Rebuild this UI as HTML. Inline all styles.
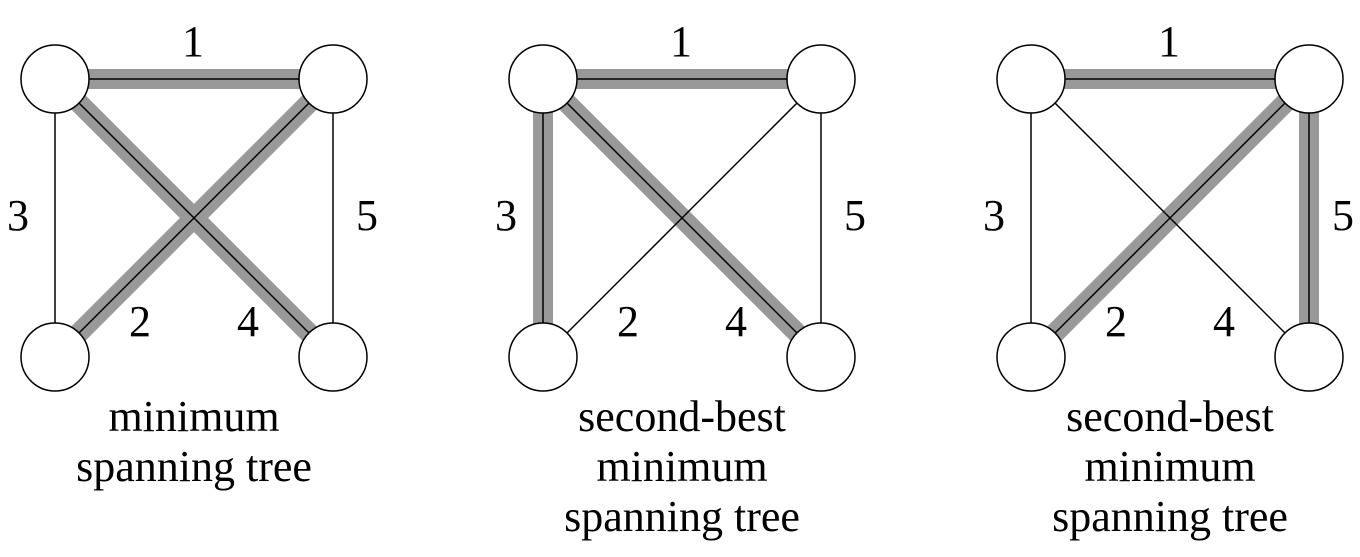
<!DOCTYPE html>
<html><head><style>body{margin:0;background:#fff}.g{stroke:#999;stroke-width:20px}.k{stroke:#000;stroke-width:1.5px}</style></head><body>
<svg width="1360" height="552" viewBox="0 0 1360 552" xmlns="http://www.w3.org/2000/svg" font-family="Liberation Serif, serif" font-size="44" text-anchor="middle">
<defs>
<g id="nodes" fill="#fff" stroke="#000" stroke-width="1.5">
<circle cx="55" cy="79" r="34"/><circle cx="333" cy="79" r="34"/>
<circle cx="55" cy="357" r="34"/><circle cx="333" cy="357" r="34"/>
</g>
<g id="labels">
<text x="193" y="56">1</text><text x="18" y="230">3</text><text x="367" y="230">5</text>
<text x="140" y="336">2</text><text x="248" y="336">4</text>
</g>
</defs>
<g>
<line class="g" x1="55" y1="79" x2="333" y2="79"/><line class="g" x1="55" y1="79" x2="333" y2="357"/><line class="g" x1="333" y1="79" x2="55" y2="357"/>
<line class="k" x1="55" y1="79" x2="333" y2="79"/><line class="k" x1="55" y1="79" x2="333" y2="357"/><line class="k" x1="333" y1="79" x2="55" y2="357"/>
<line class="k" x1="55" y1="79" x2="55" y2="357"/><line class="k" x1="333" y1="79" x2="333" y2="357"/>
<use href="#nodes"/><use href="#labels"/>
<text x="194" y="431">minimum</text><text x="194" y="481">spanning tree</text>
</g>
<g transform="translate(488,0)">
<line class="g" x1="55" y1="79" x2="333" y2="79"/><line class="g" x1="55" y1="79" x2="333" y2="357"/><line class="g" x1="55" y1="79" x2="55" y2="357"/>
<line class="k" x1="55" y1="79" x2="333" y2="79"/><line class="k" x1="55" y1="79" x2="333" y2="357"/><line class="k" x1="333" y1="79" x2="55" y2="357"/>
<line class="k" x1="55" y1="79" x2="55" y2="357"/><line class="k" x1="333" y1="79" x2="333" y2="357"/>
<use href="#nodes"/><use href="#labels"/>
<text x="194" y="431">second-best</text><text x="194" y="481">minimum</text><text x="194" y="531">spanning tree</text>
</g>
<g transform="translate(976,0)">
<line class="g" x1="55" y1="79" x2="333" y2="79"/><line class="g" x1="333" y1="79" x2="55" y2="357"/><line class="g" x1="333" y1="79" x2="333" y2="357"/>
<line class="k" x1="55" y1="79" x2="333" y2="79"/><line class="k" x1="55" y1="79" x2="333" y2="357"/><line class="k" x1="333" y1="79" x2="55" y2="357"/>
<line class="k" x1="55" y1="79" x2="55" y2="357"/><line class="k" x1="333" y1="79" x2="333" y2="357"/>
<use href="#nodes"/><use href="#labels"/>
<text x="194" y="431">second-best</text><text x="194" y="481">minimum</text><text x="194" y="531">spanning tree</text>
</g>
</svg>
</body></html>
